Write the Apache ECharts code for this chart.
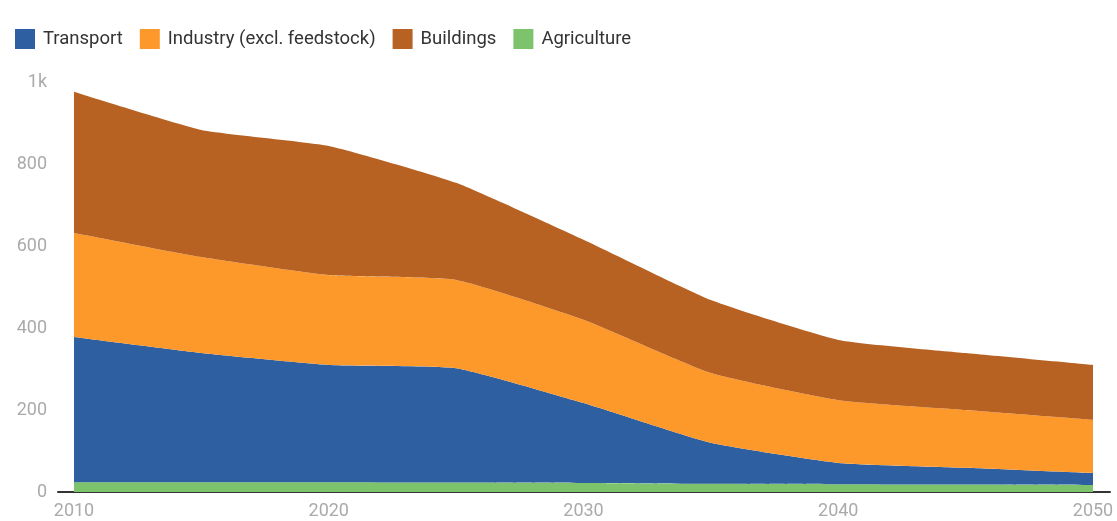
<!DOCTYPE html>
<html><head><meta charset="utf-8">
<script src="https://cdn.jsdelivr.net/npm/echarts@6/dist/echarts.min.js"></script>
<style>html,body{margin:0;padding:0;background:#fff}#c{width:1117px;height:521px}</style>
</head><body><div id="c"></div>
<script>
var years = ['2010','2015','2020','2025','2030','2035','2040','2045','2050'];
var agriculture = [24, 24, 24, 23, 22, 20, 19, 18, 17];
var transport = [354, 315, 286, 279, 195, 100, 52, 41, 29];
var industry = [254, 234, 219, 215, 203, 170, 153, 141, 130];
var buildings = [344, 310, 315, 237, 195, 178, 147, 139, 134];
var legendOrder = ['Transport', 'Industry (excl. feedstock)', 'Buildings', 'Agriculture'];

var colors = {
  'Transport': '#2e5fa0',
  'Industry (excl. feedstock)': '#fd982a',
  'Buildings': '#b76223',
  'Agriculture': '#7dc36b'
};
function mk(name, data) {
  return {
    name: name, type: 'line', stack: 'total', data: data,
    symbol: 'none', smooth: 0.15,
    lineStyle: { width: 0 },
    itemStyle: { color: colors[name] },
    areaStyle: { color: colors[name], opacity: 1 },
    xAxisIndex: 0, yAxisIndex: 0
  };
}
var chart = echarts.init(document.getElementById('c'));
chart.setOption({
  animation: false,
  legend: {
    data: legendOrder, left: 10, top: 29, padding: [0, 5], itemWidth: 20, itemHeight: 20, itemGap: 17,
    icon: 'rect',
    textStyle: { fontFamily: 'Roboto', fontSize: 18.5, color: '#333', padding: [0, 0, 0, 3] }
  },
  grid: [
    { left: 74, right: 24, top: 82, bottom: 29 },
    { left: 58, right: 7, top: 82, bottom: 29 }
  ],
  xAxis: [
    { type: 'category', gridIndex: 0, data: years, boundaryGap: false,
      axisLine: { show: false }, axisTick: { show: false },
      axisLabel: { interval: 1, color: '#aaa', fontFamily: 'Roboto', fontSize: 18, margin: 10 } },
    { type: 'value', gridIndex: 1, min: 0, max: 1, axisLabel: { show: false },
      axisTick: { show: false }, splitLine: { show: false },
      axisLine: { show: true, lineStyle: { color: '#333', width: 2 } } }
  ],
  yAxis: [
    { type: 'value', gridIndex: 0, min: 0, max: 1000, interval: 200,
      axisLine: { show: false }, axisTick: { show: false }, splitLine: { show: false },
      axisLabel: { color: '#aaa', fontFamily: 'Roboto', fontSize: 18, margin: 27,
        formatter: function (v) { return v === 1000 ? '1k' : String(v); } } },
    { type: 'value', gridIndex: 1, min: 0, max: 1, show: false }
  ],
  series: [
    mk('Agriculture', agriculture),
    mk('Transport', transport),
    mk('Industry (excl. feedstock)', industry),
    mk('Buildings', buildings)
  ]
});
</script></body></html>
